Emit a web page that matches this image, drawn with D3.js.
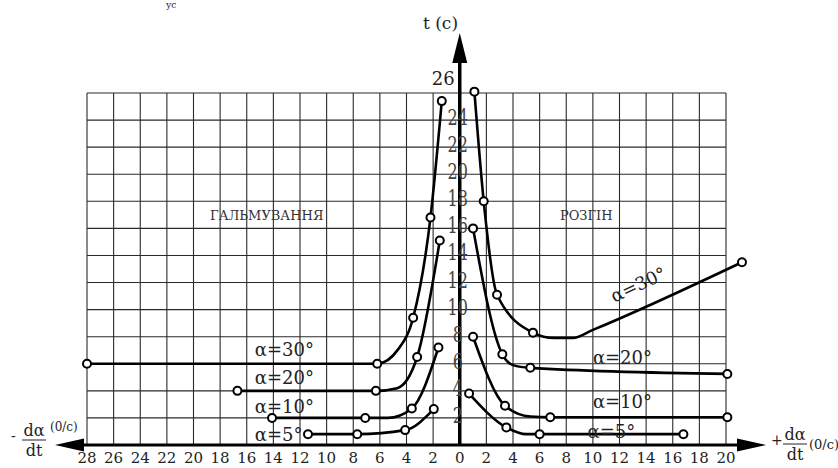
<!DOCTYPE html>
<html>
<head>
<meta charset="utf-8">
<script src="https://cdn.jsdelivr.net/npm/d3@7"></script>
<style>
  body { margin: 0; background: #fff; }
</style>
</head>
<body>
<div id="chart"></div>
<script>
// x = d(alpha)/dt (0/c), negative side = braking; y = t (c)
const xTicks = d3.range(-28, 21, 2);
const yTicks = d3.range(2, 27, 2);

// [dα/dt, t, hasMarker]
const brake30 = [[-28, 6, 1], [-6.2, 6, 1], [-4.6, 7.1, 0], [-3.5, 9.4, 1], [-2.2, 16.8, 1], [-1.35, 25.4, 1]];
const brake20 = [[-16.7, 4, 1], [-6.3, 4, 1], [-4.7, 4.2, 0], [-3.2, 6.5, 1], [-1.5, 15.1, 1]];
const brake10 = [[-14.1, 2, 1], [-7.1, 2, 1], [-5.4, 2, 0], [-3.6, 2.7, 1], [-1.6, 7.2, 1]];
const brake5 = [[-11.4, 0.8, 1], [-7.7, 0.8, 1], [-4.1, 1.1, 1], [-1.95, 2.65, 1]];

const accel30 = [[1.1, 26.1, 1], [1.8, 18, 1], [2.8, 11.1, 1], [5.5, 8.3, 1], [7.1, 7.9, 0], [8.5, 7.9, 0], [10, 8.5, 0], [21.2, 13.5, 1]];
const accel20 = [[1.0, 16, 1], [3.2, 6.7, 1], [4.0, 5.9, 0], [5.3, 5.7, 1], [20.1, 5.25, 1]];
const accel10 = [[1.0, 8, 1], [3.4, 2.9, 1], [5.3, 2.1, 0], [6.8, 2.05, 1], [20.1, 2.05, 1]];
const accel5 = [[0.7, 3.8, 1], [3.5, 1.3, 1], [5.0, 0.8, 0], [6.0, 0.8, 1], [16.8, 0.8, 1]];

const series = [brake30, brake20, brake10, brake5, accel30, accel20, accel10, accel5];

// curve labels: [text, x, t, angle]
const curveLabels = [
  ["α=30°", -15.4, 6.6, 0], ["α=20°", -15.4, 4.5, 0], ["α=10°", -15.4, 2.4, 0], ["α=5°", -15.4, 0.3, 0],
  ["α=30°", 11.6, 10.5, -25], ["α=20°", 10, 6.0, 0], ["α=10°", 10, 2.7, 0], ["α=5°", 9.6, 0.55, 0]
];

const W = 838, H = 468;
// Liberation Serif falls back to a sans face here, DejaVu Serif does not
const svg = d3.select('#chart').append('svg').attr('width', W).attr('height', H)
  .style('font-family', '"DejaVu Serif", serif');

const x = d3.scaleLinear().domain([-28, 20]).range([87, 726]);
const y = d3.scaleLinear().domain([0, 26]).range([445, 93]);

// grid
const grid = svg.append('g').attr('stroke', '#2a2a2a').attr('stroke-width', 1.1);
grid.selectAll('line.v').data(xTicks).join('line')
  .attr('x1', d => x(d)).attr('x2', d => x(d))
  .attr('y1', y(0)).attr('y2', y(26));
grid.selectAll('line.h').data(d3.range(2, 27, 2)).join('line')
  .attr('x1', x(-28)).attr('x2', x(20))
  .attr('y1', d => y(d)).attr('y2', d => y(d));

// region titles
svg.append('text').attr('x', x(-14.5)).attr('y', y(16.6)).attr('text-anchor', 'middle')
  .attr('font-size', 13).attr('fill', '#333').text('ГАЛЬМУВАННЯ');
svg.append('text').attr('x', x(9.5)).attr('y', y(16.6)).attr('text-anchor', 'middle')
  .attr('font-size', 13).attr('fill', '#333').text('РОЗГІН');

// axes
const x0 = x(0), y0 = y(0);
svg.append('line').attr('x1', 83).attr('x2', 740).attr('y1', y0).attr('y2', y0)
  .attr('stroke', '#000').attr('stroke-width', 3);
svg.append('path').attr('d', `M55,${y0}L84,${y0 - 6.5}L84,${y0 + 6.5}Z`).attr('fill', '#000');
svg.append('path').attr('d', `M766,${y0}L737,${y0 - 6.5}L737,${y0 + 6.5}Z`).attr('fill', '#000');
svg.append('line').attr('x1', x0).attr('x2', x0).attr('y1', y0).attr('y2', 62)
  .attr('stroke', '#000').attr('stroke-width', 3.5);
svg.append('path').attr('d', `M${x0},33L${x0 - 7.5},63L${x0 + 7.5},63Z`).attr('fill', '#000');

// tick labels
svg.append('g').selectAll('text').data(xTicks).join('text')
  .attr('x', d => x(d)).attr('y', 463).attr('text-anchor', 'middle')
  .attr('font-size', 15).attr('fill', '#222')
  .text(d => Math.abs(d));

svg.append('g').selectAll('text').data(yTicks.filter(d => d < 26)).join('text')
  .attr('text-anchor', 'middle').attr('font-size', 16).attr('fill', '#444')
  .attr('transform', d => `translate(${x0 - 2},${y(d) + 5}) scale(1,1.35)`)
  .text(d => d);
svg.append('text').attr('x', x0 - 5).attr('y', 85).attr('text-anchor', 'end')
  .attr('font-size', 18).attr('fill', '#222').text(26);

svg.append('text').attr('x', 423).attr('y', 29).attr('font-size', 17).attr('fill', '#222').text('t (c)');
svg.append('text').attr('x', 166).attr('y', 8).attr('font-size', 9).attr('fill', '#222').text('ус');

// axis titles (fractions)
function fraction(cx, yTop, sign, signX, unitX, unitY, unitSize) {
  const g = svg.append('g').attr('fill', '#222');
  g.append('text').attr('x', signX).attr('y', yTop + 5).attr('font-size', 14).text(sign);
  g.append('text').attr('x', cx).attr('y', yTop).attr('text-anchor', 'middle').attr('font-size', 16).text('dα');
  g.append('line').attr('x1', cx - 12).attr('x2', cx + 12).attr('y1', yTop + 4).attr('y2', yTop + 4)
    .attr('stroke', '#222').attr('stroke-width', 1);
  g.append('text').attr('x', cx).attr('y', yTop + 20).attr('text-anchor', 'middle').attr('font-size', 16).text('dt');
  g.append('text').attr('x', unitX).attr('y', unitY).attr('font-size', unitSize).text('(0/c)');
}
fraction(34, 436, '-', 11, 50, 431, 12);
fraction(795, 440, '+', 771, 809, 449, 13);

// curves
const line = d3.line().x(d => x(d[0])).y(d => y(d[1])).curve(d3.curveMonotoneX);
svg.append('g').selectAll('path').data(series).join('path')
  .attr('d', line).attr('fill', 'none').attr('stroke', '#000').attr('stroke-width', 2.6);

svg.append('g').selectAll('circle').data(series.flat().filter(d => d[2])).join('circle')
  .attr('cx', d => x(d[0])).attr('cy', d => y(d[1])).attr('r', 4)
  .attr('fill', '#fff').attr('stroke', '#000').attr('stroke-width', 2);

// curve labels
svg.append('g').selectAll('text').data(curveLabels).join('text')
  .attr('transform', d => `translate(${x(d[1])},${y(d[2])}) rotate(${d[3]})`)
  .attr('font-size', 18).attr('fill', '#222')
  .text(d => d[0]);
</script>
</body>
</html>
